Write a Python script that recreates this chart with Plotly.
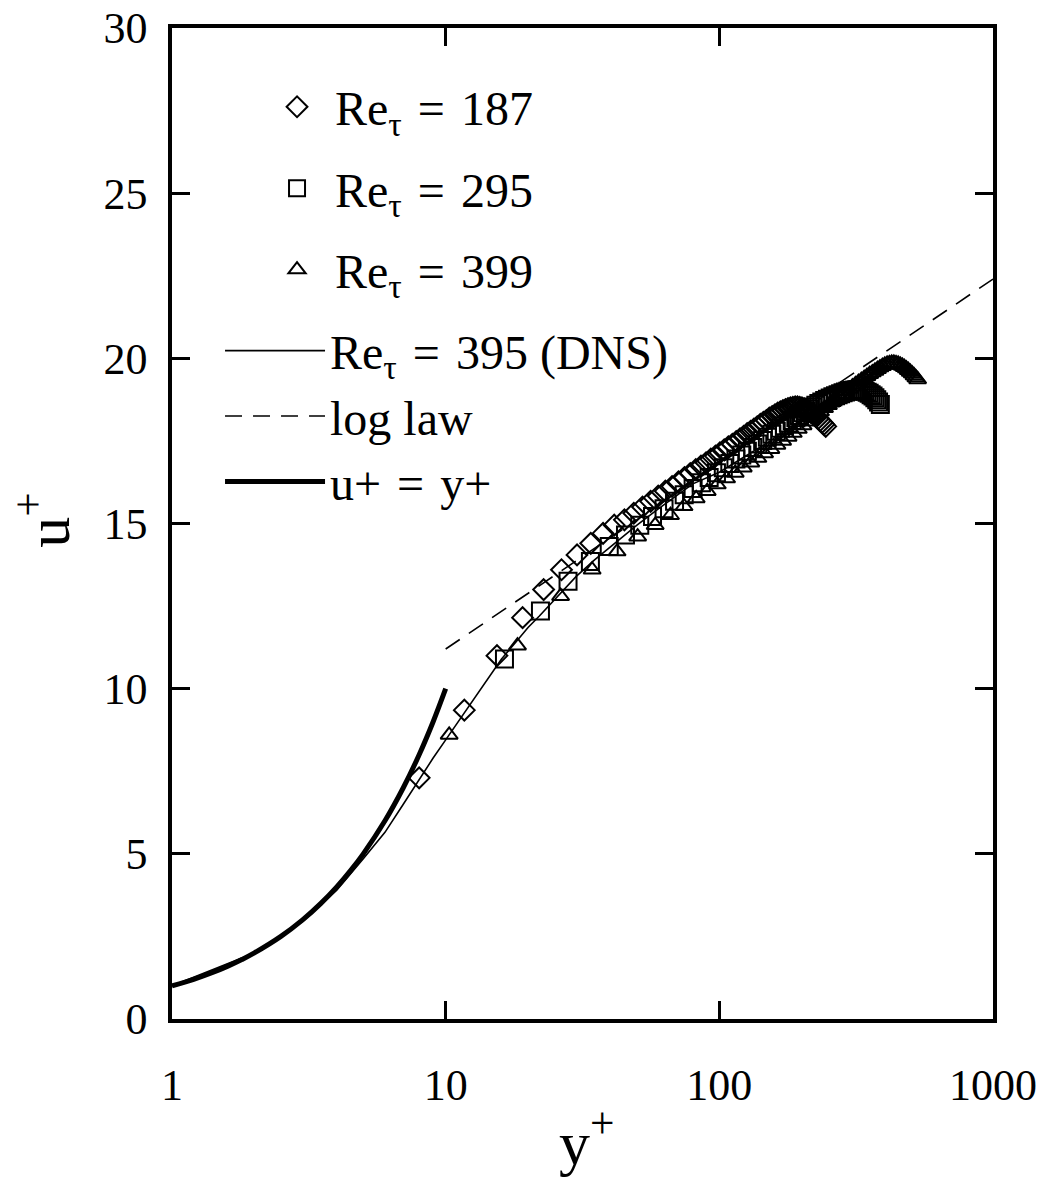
import plotly.graph_objects as go

# ---------------- data ----------------
# Re_tau = 187 (diamonds)
d_yp = [8.0, 11.7, 15.4, 19.1, 22.8, 26.5, 30.2, 33.9, 37.6, 41.3, 45.0, 48.7, 52.4, 56.1, 59.8,
        63.5, 67.2, 70.9, 74.6, 78.3, 82.0, 85.7, 89.4, 93.1, 96.8, 100.5, 104.2, 107.9, 111.6,
        115.3, 119.0, 122.7, 126.4, 130.1, 133.8, 137.5, 141.2, 144.9, 148.6, 152.3, 156.0, 159.7,
        163.4, 167.1, 170.8, 174.5, 178.2, 181.9, 185.6, 189.3, 193.0, 196.7, 200.4, 204.1, 207.8,
        211.5, 215.2, 218.9, 222.6, 226.3, 230.0, 233.7, 237.4, 241.1, 244.8]
d_up = [7.3, 9.35, 11.0, 12.15, 13.0, 13.6, 14.05, 14.4, 14.7, 14.95, 15.11, 15.31, 15.5, 15.67,
        15.83, 15.98, 16.12, 16.26, 16.39, 16.51, 16.63, 16.74, 16.84, 16.95, 17.04, 17.14, 17.23,
        17.32, 17.4, 17.48, 17.56, 17.64, 17.72, 17.79, 17.86, 17.93, 18.0, 18.06, 18.12, 18.19,
        18.24, 18.29, 18.34, 18.38, 18.42, 18.45, 18.48, 18.5, 18.52, 18.53, 18.53, 18.52, 18.5,
        18.47, 18.44, 18.41, 18.37, 18.33, 18.28, 18.23, 18.18, 18.12, 18.06, 18.0, 17.94]

# Re_tau = 295 (squares)
s_yp = [16.4, 22.2, 28.0, 33.8, 39.6, 45.4, 51.2, 57.0, 62.8, 68.6, 74.4, 80.2, 86.0, 91.8, 97.6,
        103.4, 109.2, 115.0, 120.8, 126.6, 132.4, 138.2, 144.0, 149.8, 155.6, 161.4, 167.2, 173.0,
        178.8, 184.6, 190.4, 196.2, 202.0, 207.8, 213.6, 219.4, 225.2, 231.0, 236.8, 242.6, 248.4,
        254.2, 260.0, 265.8, 271.6, 277.4, 283.2, 289.0, 294.8, 300.6, 306.4, 312.2, 318.0, 323.8,
        329.6, 335.4, 341.2, 347.0, 352.8, 358.6, 364.4, 370.2, 376.0, 381.8, 387.6]
s_up = [10.9, 12.35, 13.25, 13.85, 14.3, 14.65, 14.95, 15.21, 15.45, 15.67, 15.87, 16.06, 16.23,
        16.39, 16.54, 16.69, 16.82, 16.95, 17.07, 17.19, 17.3, 17.41, 17.51, 17.61, 17.7, 17.79,
        17.88, 17.96, 18.04, 18.12, 18.2, 18.27, 18.35, 18.41, 18.47, 18.53, 18.58, 18.63, 18.68,
        18.72, 18.76, 18.8, 18.84, 18.87, 18.9, 18.93, 18.96, 18.98, 19.0, 19.02, 19.03, 19.04,
        19.05, 19.05, 19.04, 19.02, 19.0, 18.97, 18.94, 18.9, 18.86, 18.81, 18.75, 18.68, 18.6]

# Re_tau = 399 (triangles)
t_yp = [10.3, 18.3, 26.3, 34.3, 42.3, 50.3, 58.3, 66.3, 74.3, 82.3, 90.3, 98.3, 106.3, 114.3,
        122.3, 130.3, 138.3, 146.3, 154.3, 162.3, 170.3, 178.3, 186.3, 194.3, 202.3, 210.3, 218.3,
        226.3, 234.3, 242.3, 250.3, 258.3, 266.3, 274.3, 282.3, 290.3, 298.3, 306.3, 314.3, 322.3,
        330.3, 338.3, 346.3, 354.3, 362.3, 370.3, 378.3, 386.3, 394.3, 402.3, 410.3, 418.3, 426.3,
        434.3, 442.3, 450.3, 458.3, 466.3, 474.3, 482.3, 490.3, 498.3, 506.3, 514.3, 522.3, 530.3]
t_up = [8.6, 11.3, 12.8, 13.6, 14.15, 14.6, 14.95, 15.25, 15.52, 15.76, 15.98, 16.18, 16.36, 16.53,
        16.69, 16.84, 16.98, 17.12, 17.25, 17.38, 17.5, 17.62, 17.74, 17.86, 17.97, 18.08, 18.19,
        18.29, 18.39, 18.49, 18.58, 18.67, 18.76, 18.84, 18.92, 19.0, 19.07, 19.14, 19.21, 19.28,
        19.34, 19.4, 19.46, 19.52, 19.57, 19.62, 19.67, 19.72, 19.76, 19.8, 19.83, 19.85, 19.86,
        19.86, 19.85, 19.83, 19.8, 19.77, 19.73, 19.69, 19.64, 19.59, 19.54, 19.48, 19.42, 19.36]

# DNS Re_tau = 395
dns_yp = [1, 2, 3, 4, 5, 6, 7, 8, 9, 10, 11, 12, 14, 16, 18, 20, 22, 25, 30, 35, 40, 50, 60, 70,
          80, 100, 125, 150, 200, 250, 300, 350, 395]
dns_up = [1.0, 2.0, 2.95, 3.9, 4.85, 5.65, 6.5, 7.25, 7.9, 8.45, 8.95, 9.4, 10.2, 10.9, 11.4,
          11.85, 12.2, 12.7, 13.4, 13.9, 14.3, 14.95, 15.45, 15.85, 16.2, 16.55, 17.05, 17.45,
          18.15, 18.65, 19.1, 19.45, 19.7]

# log law
log_yp = [10, 1000]
log_up = [11.2, 22.4]

# u+ = y+ (viscous sublayer)
lin_yp = [1, 1.2, 1.4, 1.6, 1.8, 2, 2.5, 3, 3.5, 4, 4.5, 5, 6, 7, 8, 9, 10]
lin_up = [1, 1.2, 1.4, 1.6, 1.8, 2, 2.5, 3, 3.5, 4, 4.5, 5, 6, 7, 8, 9, 10]

x_ticks = [1, 10, 100, 1000]
x_ticktext = ["1", "10", "100", "1000"]
y_ticks = [0, 5, 10, 15, 20, 25, 30]

FONT = "Liberation Serif"
SP = "\u2004"  # slightly wider space, like TeX math spacing around "="

fig = go.Figure()

fig.add_trace(go.Scatter(x=dns_yp, y=dns_up, mode="lines",
                         line=dict(color="black", width=1.6),
                         name=f"Re<sub>τ</sub>{SP}={SP}395 (DNS)", legend="legend2",
                         legendgroup="g4"))
fig.add_trace(go.Scatter(x=log_yp, y=log_up, mode="lines",
                         line=dict(color="black", width=1.6, dash="17px,11px"),
                         name="log law", legend="legend2", legendgroup="g5"))
fig.add_trace(go.Scatter(x=lin_yp, y=lin_up, mode="lines",
                         line=dict(color="black", width=5, shape="spline"),
                         name=f"u+{SP}={SP}y+", legend="legend2", legendgroup="g6"))

fig.add_trace(go.Scatter(x=d_yp, y=d_up, mode="markers",
                         marker=dict(symbol="diamond-open", size=16, color="black",
                                     line=dict(width=2, color="black")),
                         name=f"Re<sub>τ</sub>{SP}={SP}187", legend="legend", legendgroup="g1"))
fig.add_trace(go.Scatter(x=s_yp, y=s_up, mode="markers",
                         marker=dict(symbol="square-open", size=17, color="black",
                                     line=dict(width=2, color="black")),
                         name=f"Re<sub>τ</sub>{SP}={SP}295", legend="legend", legendgroup="g2"))
fig.add_trace(go.Scatter(x=t_yp, y=t_up, mode="markers",
                         marker=dict(symbol="triangle-up-open", size=15, color="black",
                                     line=dict(width=2, color="black")),
                         name=f"Re<sub>τ</sub>{SP}={SP}399", legend="legend", legendgroup="g3"))

axis_common = dict(showline=True, linecolor="black", linewidth=3.5, mirror="ticks",
                   ticks="inside", ticklen=18, tickwidth=3, tickcolor="black",
                   showgrid=False, zeroline=False, automargin=False,
                   tickfont=dict(family=FONT, size=44, color="black"))

fig.update_xaxes(type="log", range=[0, 3], tickvals=x_ticks, ticktext=x_ticktext,
                 ticklabelstandoff=24, **axis_common)
fig.update_yaxes(range=[0, 30], tickvals=y_ticks, ticklabelstandoff=12, **axis_common)

fig.update_layout(
    width=1039, height=1183,
    margin=dict(l=172, r=46, t=28, b=164, autoexpand=False),
    paper_bgcolor="white", plot_bgcolor="white",
    font=dict(family=FONT, color="black", size=40),
    showlegend=True,
    legend=dict(x=0.106, y=0.9586, xanchor="left", yanchor="top",
                bgcolor="rgba(0,0,0,0)", borderwidth=0, itemwidth=66,
                traceorder="grouped", tracegroupgap=16,
                font=dict(family=FONT, size=48, color="black")),
    legend2=dict(x=0.0585, y=0.7125, xanchor="left", yanchor="top",
                 bgcolor="rgba(0,0,0,0)", borderwidth=0, itemwidth=100,
                 traceorder="grouped", tracegroupgap=0,
                 font=dict(family=FONT, size=48, color="black")),
    annotations=[
        dict(text="u<sup>+</sup>", xref="paper", yref="paper", x=-0.158, y=0.503,
             xanchor="center", yanchor="middle", textangle=-90, showarrow=False,
             font=dict(family=FONT, size=62, color="black")),
        dict(text="y<sup>+</sup>", xref="paper", yref="paper", x=0.505, y=-0.12,
             xanchor="center", yanchor="middle", showarrow=False,
             font=dict(family=FONT, size=62, color="black")),
    ],
)

fig.write_html("out.html")
